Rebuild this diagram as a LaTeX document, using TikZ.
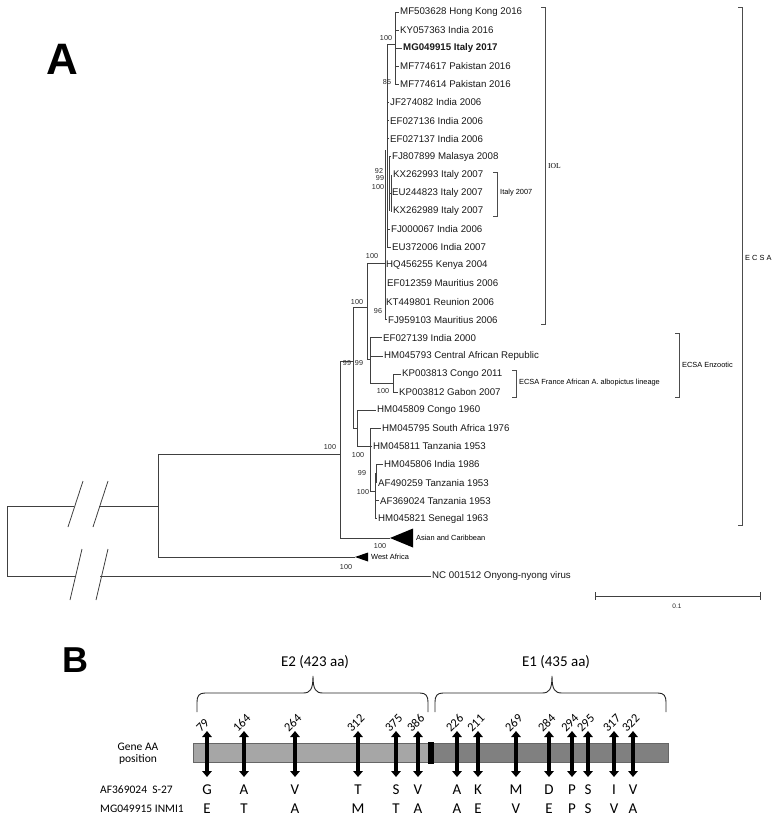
\documentclass[tikz,border=0pt]{standalone}
\usepackage{fontspec}
\setmainfont{Liberation Sans}
\newfontfamily\serifkind{Liberation Serif}
\newfontfamily\calib{Carlito}
\usetikzlibrary{arrows.meta, positioning}

\begin{document}
\begin{tikzpicture}[x=1pt, y=-1pt,
  branch/.style={draw=black!75, line width=0.7pt},
  leaf/.style={anchor=west, inner xsep=1.5pt, inner ysep=0pt,
               font=\fontsize{9.7}{10}\selectfont, text=black!90},
  boot/.style={inner sep=0pt, font=\fontsize{7.2}{8}\selectfont, text=black!85},
  clade/.style={anchor=west, inner sep=0pt, font=\fontsize{7.4}{8}\selectfont},
  bracket/.style={draw=black!70, line width=0.7pt},
  tri/.style={fill=black},
  dbl/.style={{Triangle[length=6pt,width=9.5pt]}-{Triangle[length=6pt,width=9.5pt]},
              line width=3.6pt},
  poslab/.style={rotate=45, anchor=south west, inner sep=0pt,
              font=\calib\fontsize{12.5}{13}\selectfont},
  res/.style={inner sep=0pt, font=\calib\fontsize{15}{16}\selectfont},
  rowlab/.style={anchor=west, inner sep=0pt, font=\calib\fontsize{11.5}{12}\selectfont},
  brace/.style={draw=black!85, line width=0.9pt},
  panel/.style={inner sep=0pt, font=\bfseries\fontsize{44}{44}\selectfont}
]
\useasboundingbox (0,0) rectangle (775,817);

% panel letters
\node[panel] (labA) at (62,59) {A};
\node[panel, font=\bfseries\fontsize{36}{36}\selectfont] (labB) at (75,660) {B};

% leaves of the tree
\foreach \lx/\bx/\txt [count=\i] in {
  400/395/MF503628 Hong Kong 2016,
  400/395/KY057363 India 2016,
  403/395/{\bfseries MG049915 Italy 2017},
  400/395/MF774617 Pakistan 2016,
  400/395/MF774614 Pakistan 2016,
  390/387/JF274082 India 2006,
  390/387/EF027136 India 2006,
  390/387/EF027137 India 2006,
  392/389/FJ807899 Malasya 2008,
  393/391/KX262993 Italy 2007,
  392/389/EU244823 Italy 2007,
  393/391/KX262989 Italy 2007,
  391/387/FJ000067 India 2006,
  392/387/EU372006 India 2007,
  386/385/HQ456255 Kenya 2004,
  387/385/EF012359 Mauritius 2006,
  386/385/KT449801 Reunion 2006,
  388/385/FJ959103 Mauritius 2006,
  383/370/EF027139 India 2000,
  384/370/HM045793 Central African Republic,
  402/393/KP003813 Congo 2011,
  399/393/KP003812 Gabon 2007,
  377/357/HM045809 Congo 1960,
  382/370/HM045795 South Africa 1976,
  373/370/HM045811 Tanzania 1953,
  384/376/HM045806 India 1986,
  378/376/AF490259 Tanzania 1953,
  380/375/AF369024 Tanzania 1953,
  378/375/HM045821 Senegal 1963}{
  \pgfmathsetmacro\yy{12+18.1*(\i-1)}
  \node[leaf] (leaf\i) at (\lx-1.5,\yy) {\txt};
  \draw[branch] (\bx,\yy) -- (leaf\i.west);
}

% internal branches
\draw[branch] (395,12) -- (395,84.4);
\draw[branch] (387,44) -- (395,44);
\draw[branch] (387,44) -- (387,247);
\draw[branch] (385,150) -- (385,319.8);
\draw[branch] (389,157) -- (389,211);
\draw[branch] (391,175) -- (391,211);
\draw[branch] (367,263) -- (385,263);
\draw[branch] (367,263) -- (367,359);
\draw[branch] (353,307) -- (367,307);
\draw[branch] (367,359) -- (370,359);
\draw[branch] (370,337.8) -- (370,383);
\draw[branch] (370,383) -- (393,383);
\draw[branch] (393,374.2) -- (393,392.1);
\draw[branch] (353,307) -- (353,428);
\draw[branch] (340,361) -- (353,361);
\draw[branch] (353,428) -- (357,428);
\draw[branch] (357,411) -- (357,446);
\draw[branch] (357,446) -- (370,446);
\draw[branch] (370,428.3) -- (370,491);
\draw[branch] (370,491) -- (375,491);
\draw[branch] (375,473) -- (375,518.8);
\draw[branch] (375,473) -- (376,473);
\draw[branch] (376,464.5) -- (376,482.6);
\draw[branch] (340,361) -- (340,538);
\draw[branch] (158,454) -- (340,454);
\draw[branch] (158,454) -- (158,557);
\draw[branch] (7,506) -- (7,576);

% collapsed clades and outgroup
\coordinate (asiaTip) at (390,538);
\coordinate (westTip) at (355,557);
\draw[branch] (340,538) -- (asiaTip);
\fill[tri] (asiaTip) -- (413,528.5) -- (413,547.5) -- cycle;
\node[clade, right=3pt of asiaTip, xshift=23pt] (asia) {Asian and Caribbean};
\draw[branch] (158,557) -- (westTip);
\fill[tri] (westTip) -- (368,552.5) -- (368,561.5) -- cycle;
\node[clade, right=3pt of westTip, xshift=13pt] (west) {West Africa};
\node[leaf] (nc) at (430.5,576) {NC 001512 Onyong-nyong virus};
\draw[branch] (7,576) -- (75,576);
\draw[branch] (100,576) -- (nc.west);
\draw[branch] (7,506) -- (74,506);
\draw[branch] (99,506) -- (158,506);

% axis breaks
\draw[branch, line width=0.8pt] (83,481) -- (68,527);
\draw[branch, line width=0.8pt] (108,481) -- (93,527);
\draw[branch, line width=0.8pt] (82,549) -- (70,600);
\draw[branch, line width=0.8pt] (108,549) -- (96,600);

% bootstrap values
\foreach \bxx/\byy/\bv [count=\k] in {
  386/38/100, 387/82/85, 379/171/92, 380/178/99, 378/187/100,
  372/256/100, 378/311/96, 357/302/100, 347/363/99, 359/363/99,
  383/391/100, 358/455/100, 362/473/99, 363/492/100, 330/447/100,
  380/546/100, 346/567/100}{
  \node[boot] (bs\k) at (\bxx,\byy) {\bv};
}

% clade brackets
\draw[bracket] (493,172) -- (497,172) -- (497,216) -- (493,216);
\node[clade] (italy) at (500,193) {Italy 2007};
\draw[bracket] (541,7) -- (545,7) -- (545,324) -- (541,324);
\node[clade, font=\serifkind\fontsize{7.6}{8}\selectfont] (iol) at (548,166) {IOL};
\draw[bracket] (738,7) -- (742,7) -- (742,525) -- (738,525);
\node[clade] (ecsa) at (745,258) {E C S A};
\draw[bracket] (675,333) -- (679,333) -- (679,397) -- (675,397);
\node[clade] (enzo) at (682,365) {ECSA Enzootic};
\draw[bracket] (512,370) -- (516,370) -- (516,397) -- (512,397);
\node[clade] (france) at (519,383) {ECSA France African A. albopictus lineage};

% scale bar
\coordinate (sbL) at (595,596);
\coordinate (sbR) at (760,596);
\draw[branch] (sbL) -- (sbR);
\draw[branch] (595,592) -- (595,600);
\draw[branch] (760,592) -- (760,600);
\node[boot, font=\fontsize{6.5}{7}\selectfont] (sb) at (677,606) {0.1};

% panel B: gene bar
\filldraw[fill=black!35, draw=black!60, line width=0.6pt] (193,743) rectangle (428,762);
\filldraw[fill=black!50, draw=black!60, line width=0.6pt] (433,743) rectangle (668,762);
\fill[black] (428,741.5) rectangle (433.5,764);

% braces
\draw[brace] (197,712) -- (197,702) .. controls (197,696) and (199,693) .. (205,693)
  -- (303,693) .. controls (310,693) and (313,690) .. (313,676)
  .. controls (313,690) and (316,693) .. (323,693) -- (420,693)
  .. controls (426,693) and (428,696) .. (428,702) -- (428,712);
\draw[brace] (435,712) -- (435,702) .. controls (435,696) and (437,693) .. (443,693)
  -- (542,693) .. controls (549,693) and (552,690) .. (552,676)
  .. controls (552,690) and (555,693) .. (562,693) -- (658,693)
  .. controls (664,693) and (666,696) .. (666,702) -- (666,712);
\node[res] (e2) at (315,662) {E2 (423 aa)};
\node[res] (e1) at (556,662) {E1 (435 aa)};

% row labels
\node[rowlab, align=center, anchor=center] (geneaa) at (138,754) {Gene AA\\position};
\node[rowlab] (seqA) at (100,790) {AF369024\ \ S-27};
\node[rowlab] (seqB) at (100,809) {MG049915 INMI1};

% substitution sites
\foreach \x/\n/\ra/\rb [count=\i] in {
  207/79/G/E, 244/164/A/T, 295/264/V/A, 358/312/T/M, 396/375/S/T,
  418/386/V/A, 457/226/A/A, 478/211/K/E, 516/269/M/V, 549/284/D/E,
  572/294/P/P, 588/295/S/S, 614/317/I/V, 633/322/V/A}{
  \coordinate (top\i) at (\x,731);
  \coordinate (bot\i) at (\x,777);
  \draw[dbl] (top\i) -- (bot\i);
  \node[poslab] (aa\i) at (\x-6,733) {\n};
  \node[res] (ra\i) at (\x,790) {\ra};
  \node[res] (rb\i) at (\x,809) {\rb};
}
\end{tikzpicture}
\end{document}
